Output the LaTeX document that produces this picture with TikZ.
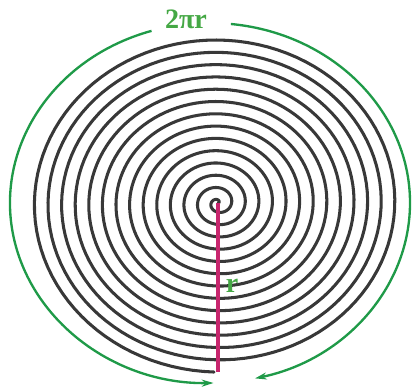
\documentclass[tikz,border=0pt]{standalone}
\usepackage{fontspec}
\setmainfont{Liberation Serif}
\usepackage{xcolor}
\usetikzlibrary{arrows.meta}
\definecolor{coilgray}{HTML}{383838}
\definecolor{arcgreen}{HTML}{1F9A48}
\definecolor{labelgreen}{HTML}{45A845}
\definecolor{radred}{HTML}{C8266E}

\begin{document}
\begin{tikzpicture}[
    x=0.03cm, y=0.03cm,
    coil/.style={draw=coilgray, line width=2.6pt, line cap=round},
    circarrow/.style={draw=arcgreen, line width=2pt, -{Stealth[length=10pt,width=6pt]}},
    radline/.style={draw=radred, line width=2.6pt},
    lbl/.style={font=\fontsize{24}{26}\selectfont\bfseries, text=labelgreen, inner sep=1pt}
]
\useasboundingbox (0,0) rectangle (412,387);

\coordinate (pole) at (218,184);
\coordinate (rim) at (218,14.9);
\coordinate (G) at (210,184);

% the coiled spiral, \t counts turns
\draw[coil] plot[domain=0:13.75, samples=1500, variable=\t]
    ({218+13.6*\t*cos(360*\t)}, {184+12.3*\t*sin(360*\t)});

% radius
\draw[radline] (pole) -- (rim);
\node[lbl] (radius) at (232,101) {r};

% circumference
\node[lbl] (circum) at (186,368) {2πr};
\draw[circarrow] ([shift={(107:200 and 180)}]G) arc[start angle=107, end angle=271, x radius=200, y radius=180];
\draw[circarrow] ([shift={(84:200 and 180)}]G) arc[start angle=84, end angle=-77, x radius=200, y radius=180];

\end{tikzpicture}
\end{document}
